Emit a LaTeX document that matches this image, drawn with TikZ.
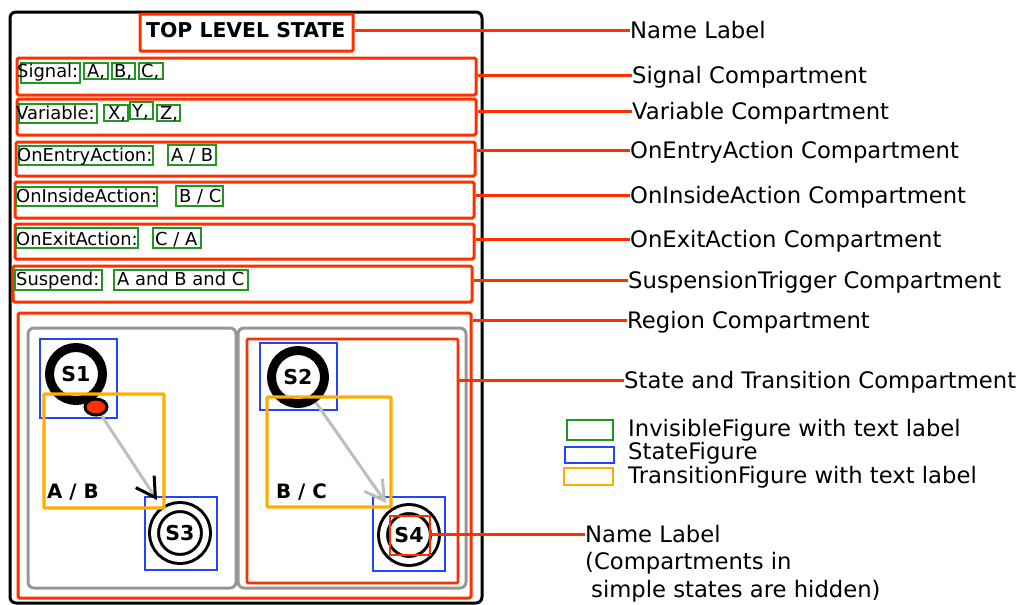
\documentclass[tikz,border=0pt]{standalone}
\usepackage{fontspec}
\setmainfont{DejaVu Sans}
\usetikzlibrary{fit,arrows.meta,shapes.geometric}
\definecolor{cred}{RGB}{255,48,0}
\definecolor{cgreen}{RGB}{34,150,34}
\definecolor{cblue}{RGB}{34,68,255}
\definecolor{corange}{RGB}{255,174,0}
\definecolor{cframe}{RGB}{150,150,150}
\definecolor{carrow}{RGB}{190,190,190}
\begin{document}
\begin{tikzpicture}[x=1pt,y=-1pt,
  comp/.style={draw=cred, line width=3pt, inner sep=0pt, rounded corners=1.5pt},
  tbox/.style={draw=cgreen, line width=1.8pt, inner sep=0pt},
  sbox/.style={draw=cblue, line width=1.8pt, inner sep=0pt},
  trbox/.style={draw=corange, line width=3.3pt, inner sep=0pt, rounded corners=1pt},
  regionframe/.style={draw=cframe, line width=3pt, rounded corners=6pt, inner sep=0pt},
  lbl/.style={anchor=west, inner sep=0pt, text height=16.4pt, text depth=0pt,
              font=\fontsize{22.7}{27}\selectfont},
  lbltext/.style={anchor=base west, inner sep=0pt, font=\fontsize{22.7}{27}\selectfont},
  ctext/.style={anchor=base west, inner sep=0pt, font=\fontsize{17.9}{21}\selectfont},
  ttext/.style={anchor=base west, inner sep=0pt, font=\fontsize{19.8}{23}\bfseries},
  leader/.style={draw=cred, line width=3pt},
  initst/.style={circle, draw, line width=9pt, minimum size=53pt, inner sep=0pt,
                 font=\fontsize{20.5}{24}\bfseries},
  finst/.style={circle, draw, line width=3pt, double, double distance=6pt,
                minimum size=52pt, inner sep=0pt, font=\fontsize{20.5}{24}\bfseries},
  trans/.style={draw=carrow, line width=3pt},
]
\useasboundingbox (0,0) rectangle (1020,605);

% top level state frame
\draw[line width=3pt, rounded corners=6pt] (10,12) rectangle (482,603);

% name label
\node[anchor=base west, inner sep=0pt, font=\fontsize{20.4}{24}\bfseries] (top) at (146,37) {TOP LEVEL STATE};
\node[comp, rounded corners=1pt, fit={(140,14) (353,51)}] (nm) {};

% compartments
\node[comp, fit={(17,58) (476,95)}] (sig) {};
\node[comp, fit={(17,99) (476,135)}] (var) {};
\node[comp, fit={(16,142) (475,176)}] (ent) {};
\node[comp, fit={(15,182) (474,218)}] (ins) {};
\node[comp, fit={(15,224) (474,259)}] (ext) {};
\node[comp, fit={(13,266) (472,302)}] (sus) {};
\node[comp, fit={(18,313) (471,598)}] (reg) {};

% signal row
\node[tbox, fit={(21,63) (80,83)}] (gSig) {};
\node[tbox, fit={(84,63) (108,79)}] (gSa) {};
\node[tbox, fit={(112,63) (135,79)}] (gSb) {};
\node[tbox, fit={(139,63) (163,79)}] (gSc) {};
\node[ctext] (tSig) at (17,77) {Signal:};
\node[ctext] (tSa) at (87,77) {A,};
\node[ctext] (tSb) at (114,77) {B,};
\node[ctext] (tSc) at (141,77) {C,};

% variable row
\node[tbox, fit={(19,104) (97,123)}] (gVar) {};
\node[tbox, fit={(104,105) (128,121)}] (gVx) {};
\node[tbox, fit={(130,102) (153,119)}] (gVy) {};
\node[tbox, fit={(157,105) (180,121)}] (gVz) {};
\node[ctext] (tVar) at (16,119) {Variable:};
\node[ctext] (tVx) at (108,119) {X,};
\node[ctext] (tVy) at (132,117) {Y,};
\node[ctext] (tVz) at (160,119) {Z,};

% action rows
\node[tbox, fit={(19,146) (153,165)}] (gEnt) {};
\node[tbox, fit={(168,145) (216,165)}] (gEv) {};
\node[ctext] (tEnt) at (17,161) {OnEntryAction:};
\node[ctext] (tEv) at (171,161) {A / B};

\node[tbox, fit={(16,187) (157,206)}] (gIns) {};
\node[tbox, fit={(176,186) (223,206)}] (gIv) {};
\node[ctext] (tIns) at (16,202) {OnInsideAction:};
\node[ctext] (tIv) at (179,202) {B / C};

\node[tbox, fit={(16,228) (138,248)}] (gExt) {};
\node[tbox, fit={(153,228) (201,248)}] (gXv) {};
\node[ctext] (tExt) at (16,245) {OnExitAction:};
\node[ctext] (tXv) at (155,245) {C / A};

\node[tbox, fit={(15,270) (102,290)}] (gSus) {};
\node[tbox, fit={(114,270) (248,290)}] (gUv) {};
\node[ctext] (tSus) at (16,285) {Suspend:};
\node[ctext] (tUv) at (117,285) {A and B and C};

% regions
\node[regionframe, fit={(28,328) (236,588)}] (regL) {};
\node[regionframe, fit={(238,328) (466,588)}] (regR) {};
\node[comp, line width=2.8pt, rounded corners=1pt, fit={(247,339) (458,583)}] (stc) {};

% left region: S1 -> S3
\node[initst] (s1) at (76,374) {S1};
\node[finst] (s3) at (180,533) {S3};
\node[sbox, fit={(40,339) (117,418)}] (b1) {};
\node[sbox, fit={(145,497) (217,570)}] (b3) {};
\node[trbox, fit={(44,394) (164,508)}] (tr1) {};
\node[ttext] (l1) at (47,498) {A / B};
\coordinate (d1) at (96,407);
\coordinate (t1) at (157,500);
\draw[trans, -{Straight Barb[length=19pt,width=22pt,black]}] (d1) -- (t1);
\node[ellipse, draw, line width=3pt, fill=cred, minimum width=22pt, minimum height=16pt, inner sep=0pt] (dot1) at (d1) {};

% right region: S2 -> S4
\node[initst] (s2) at (298,377) {S2};
\node[finst] (s4) at (409,535) {S4};
\node[sbox, fit={(260,343) (337,410)}] (b2) {};
\node[sbox, fit={(373,497) (445,571)}] (b4) {};
\node[trbox, fit={(267,397) (391,507)}] (tr2) {};
\node[ttext] (l2) at (276,498) {B / C};
\coordinate (t2) at (386,503);
\draw[trans, -{Straight Barb[length=19pt,width=22pt]}] (s2.-55) -- (t2);
\node[draw=cred, line width=2.6pt, inner sep=0pt, fit={(390,516) (430,555)}] (s4nm) {};

% callout labels
\node[lbl] (Lnm) at (630,30) {Name Label};
\node[lbl] (Lsig) at (632,75) {Signal Compartment};
\node[lbl] (Lvar) at (632,111) {Variable Compartment};
\node[lbl] (Lent) at (630,150) {OnEntryAction Compartment};
\node[lbl] (Lins) at (630,195) {OnInsideAction Compartment};
\node[lbl] (Lext) at (630,239) {OnExitAction Compartment};
\node[lbl] (Lsus) at (628,280) {SuspensionTrigger Compartment};
\node[lbl] (Lreg) at (627,320) {Region Compartment};
\node[lbl] (Lstc) at (624,380) {State and Transition Compartment};
\node[lbl] (Ls4) at (585,534) {Name Label};
\node[lbltext] (Ls4b) at (585,569) {(Compartments in};
\node[lbltext] (Ls4c) at (591,597) {simple states are hidden)};

\draw[leader] (nm.east |- Lnm.west) -- (Lnm.west);
\draw[leader] (sig.east |- Lsig.west) -- (Lsig.west);
\draw[leader] (var.east |- Lvar.west) -- (Lvar.west);
\draw[leader] (ent.east |- Lent.west) -- (Lent.west);
\draw[leader] (ins.east |- Lins.west) -- (Lins.west);
\draw[leader] (ext.east |- Lext.west) -- (Lext.west);
\draw[leader] (sus.east |- Lsus.west) -- (Lsus.west);
\draw[leader] (reg.east |- Lreg.west) -- (Lreg.west);
\draw[leader] (stc.east |- Lstc.west) -- (Lstc.west);
\draw[leader] (s4nm.east |- Ls4.west) -- (Ls4.west);

% legend
\node[tbox, fit={(567,420) (613,440)}] (kg) {};
\node[sbox, fit={(565,447) (614,463)}] (kb) {};
\node[draw=corange, line width=1.5pt, inner sep=0pt, fit={(564,468) (613,485)}] (ko) {};
\node[lbltext] (kgL) at (628,436) {InvisibleFigure with text label};
\node[lbltext] (kbL) at (628,459) {StateFigure};
\node[lbltext] (koL) at (628,483) {TransitionFigure with text label};
\end{tikzpicture}
\end{document}
